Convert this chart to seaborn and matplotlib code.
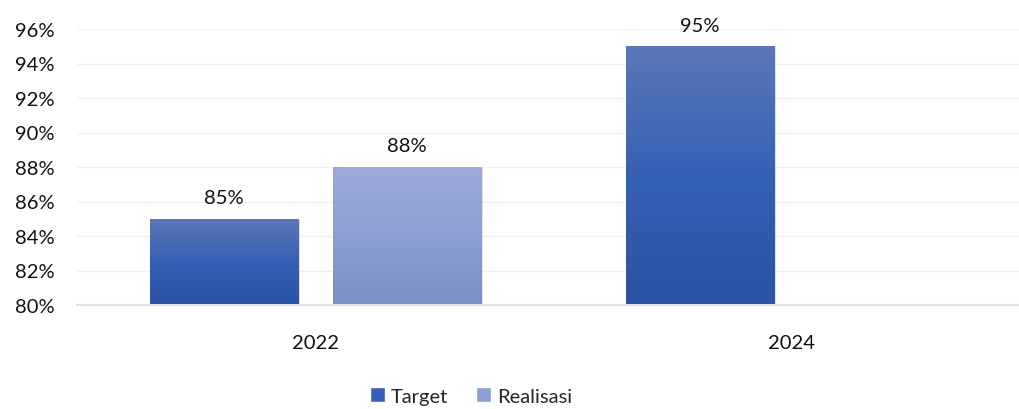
import numpy as np
import pandas as pd
import matplotlib
matplotlib.use("Agg")
import matplotlib.pyplot as plt
import seaborn as sns
from matplotlib.colors import LinearSegmentedColormap
from matplotlib.patches import Patch, Rectangle
from matplotlib.ticker import FuncFormatter

# Datos
tahun = ["2022", "2024"]
target = [85, 95]
realisasi = [88, np.nan]
seri = ["Target", "Realisasi"]

df = pd.DataFrame({
    "tahun": tahun * 2,
    "nilai": target + realisasi,
    "seri": ["Target"] * len(tahun) + ["Realisasi"] * len(tahun),
})

warna = {"Target": "#3561b5", "Realisasi": "#8c9fd5"}
gradien = {
    "Target": ["#2b52a3", "#3561b5", "#5b78b8"],
    "Realisasi": ["#7b8fc6", "#8c9fd5", "#9daad8"],
}

sns.set_theme(style="white")
plt.rcParams["font.family"] = ["Lato", "DejaVu Sans"]
fs = 14.5

fig = plt.figure(figsize=(10.19, 4.10), dpi=100)
ax = fig.add_axes([77 / 1019, 1 - 306 / 410, (1030 - 77) / 1019, (306 - 30) / 410])

sns.barplot(data=df, x="tahun", y="nilai", hue="seri", order=tahun, hue_order=seri,
            palette=warna, width=0.769, gap=0.191, ax=ax, legend=False,
            saturation=1, linewidth=0)

ax.set_ylim(80, 96)
ax.set_xlim(-0.5, 1.5)
ax.set_yticks(np.arange(80, 97, 2))
ax.yaxis.set_major_formatter(FuncFormatter(lambda v, p: f"{v:.0f}%"))
ax.grid(axis="y", color="#f0f0f0", linewidth=1)
ax.set_axisbelow(True)
for s in ["top", "right", "left"]:
    ax.spines[s].set_visible(False)
ax.spines["bottom"].set_color("#e2e2e2")
ax.spines["bottom"].set_linewidth(1.5)
ax.tick_params(axis="y", length=0, pad=16, labelsize=fs, labelcolor="#111111")
ax.tick_params(axis="x", length=0, pad=21, labelsize=fs, labelcolor="#111111")
ax.set_xlabel("")
ax.set_ylabel("")

# Gradien + bayangan untuk setiap batang
for container, nama in zip(ax.containers, seri):
    cmap = LinearSegmentedColormap.from_list(nama, gradien[nama])
    for bar, val in zip(container, container.datavalues):
        if np.isnan(val):
            continue
        x0, w = bar.get_x(), bar.get_width()
        top = val
        shadow = Rectangle((x0 + 0.004, 80), w, top - 80 - 0.05, facecolor="#000000",
                           alpha=0.12, linewidth=0, zorder=bar.get_zorder() - 0.1)
        ax.add_patch(shadow)
        img = ax.imshow(np.linspace(0, 1, 256).reshape(-1, 1), cmap=cmap, origin="lower",
                        extent=[x0, x0 + w, 80, top], aspect="auto",
                        zorder=bar.get_zorder() + 0.1)
        img.set_clip_path(bar)
        ax.annotate(f"{val:.0f}%", (x0 + w / 2, top), xytext=(0, 9),
                    textcoords="offset points", ha="center", va="bottom",
                    fontsize=fs, color="#111111")

ax.set_xlim(-0.5, 1.5)
ax.set_ylim(80, 96)

handles = [Patch(facecolor=warna[s], label=s) for s in seri]
fig.legend(handles=handles, loc="center", bbox_to_anchor=(471 / 1019, 1 - 397 / 410),
           ncol=2, frameon=False, fontsize=fs, handlelength=0.75, handleheight=0.75,
           handletextpad=0.3, columnspacing=1.4)

fig.savefig("out.png", dpi=100)
